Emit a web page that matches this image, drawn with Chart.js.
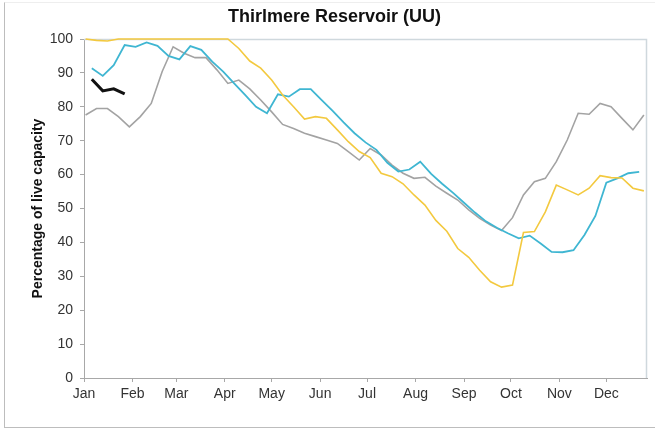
<!DOCTYPE html>
<html>
<head>
<meta charset="utf-8">
<script src="https://cdn.jsdelivr.net/npm/chart.js@4.4.1/dist/chart.umd.min.js"></script>
<style>
  html, body { margin: 0; padding: 0; background: #ffffff; }
  #wrap { position: relative; width: 655px; height: 432px; overflow: hidden; }
  #frame { position: absolute; left: 4px; top: 2px; width: 700px; height: 426px; box-sizing: border-box;
           border-left: 1px solid #bdbdbd; border-bottom: 1px solid #bdbdbd; border-top: 1px solid #eeeeee;
           pointer-events: none; }
  canvas { position: absolute; left: 0; top: 0; }
</style>
</head>
<body>
<div id="wrap">
  <canvas id="c" width="655" height="432"></canvas>
  <div id="frame"></div>
</div>
<script>
// ---- Data (day-of-year positions and percentage of live capacity) ----
const monthLabels = ["Jan","Feb","Mar","Apr","May","Jun","Jul","Aug","Sep","Oct","Nov","Dec"];
const monthStarts = [0,31,59,90,120,151,181,212,243,273,304,334];
const yTicks = [0,10,20,30,40,50,60,70,80,90,100];

const daysA = [1,8,15,22,29,36,43,50,57,64,71,78,85,92,99,106,113,120,127,134,141,148,155,162,169,176,
               183,190,197,204,211,218,225,232,239,246,253,260,267,274,281,288,295,302,309,316,323,330,337,344,351,358];
const daysB = [5,12,19,26,33,40,47,54,61,68,75,82,89,96,103,110,117,124,131,138,145,152,159,166,173,180,
               187,194,201,208,215,222,229,236,243,250,257,264,271,278,285,292,299,306,313,320,327,334,341,348,355];

const greyValues = [77.6,79.5,79.5,77.1,74.1,77.1,81.0,90.4,97.7,95.8,
                    94.5,94.5,90.9,86.9,87.9,85.3,82.0,78.5,74.8,73.6,
                    72.2,71.2,70.2,69.2,66.8,64.3,67.7,65.8,62.8,60.4,
                    58.9,59.2,56.6,54.5,52.5,49.6,47.1,45.1,43.5,47.3,
                    54.0,57.9,58.9,63.8,70.2,78.1,77.8,81.0,80.0,76.6,
                    73.2,77.6];
const yellowValues = [100,99.6,99.4,100,100,100,100,100,100,100,
                      100,100,100,100,97.2,93.5,91.4,87.9,83.5,80.0,
                      76.4,77.1,76.6,73.2,69.7,66.8,65.0,60.4,59.4,57.3,
                      54.0,51.0,46.5,43.3,38.2,35.6,31.8,28.4,26.8,27.4,
                      42.9,43.2,49.0,56.9,55.5,54.0,56.0,59.7,59.1,59.0,
                      56.0,55.2];
const blueValues = [91.4,89.1,92.3,98.2,97.7,99.0,98.0,95.0,94.0,97.9,
                    96.8,93.3,90.4,86.9,83.5,80.0,78.1,83.7,83.0,85.2,
                    85.2,82.0,78.8,75.4,72.2,69.5,67.3,63.5,60.9,61.5,
                    63.8,60.2,57.3,54.6,51.7,48.8,46.2,44.3,42.7,41.2,
                    42.0,39.7,37.2,37.1,37.7,42.2,47.8,57.6,58.9,60.4,
                    60.8];
const blackDays = [5,12,19,26];
const blackValues = [88.1,84.7,85.3,83.8];

function pts(days, vals) { return vals.map((v, i) => ({ x: days[i], y: v })); }

const plotFrame = {
  id: 'plotFrame',
  beforeDatasetsDraw(chart) {
    const a = chart.chartArea, ctx = chart.ctx;
    ctx.save();
    ctx.strokeStyle = '#cfd8dd';
    ctx.lineWidth = 1.5;
    ctx.beginPath();
    ctx.moveTo(a.left, a.top + 0.5);
    ctx.lineTo(a.right - 0.5, a.top + 0.5);
    ctx.lineTo(a.right - 0.5, a.bottom);
    ctx.stroke();
    ctx.restore();
  }
};

const axisColor = '#a8a8a8';
const tickFont = { family: '"Liberation Sans", Arial, sans-serif', size: 14 };

new Chart(document.getElementById('c'), {
  type: 'line',
  data: {
    datasets: [
      { label: 'Current', data: pts(blackDays, blackValues), borderColor: '#111111', borderWidth: 3 },
      { label: 'Yellow', data: pts(daysA, yellowValues), borderColor: '#f3c93f', borderWidth: 1.6 },
      { label: 'Blue', data: pts(daysB, blueValues), borderColor: '#3fb6d2', borderWidth: 1.8 },
      { label: 'Grey', data: pts(daysA, greyValues), borderColor: '#a3a3a3', borderWidth: 1.6 }
    ]
  },
  options: {
    responsive: false,
    animation: false,
    devicePixelRatio: 1,
    layout: { padding: { left: 22, right: 8, top: 0, bottom: 0 } },
    elements: { point: { radius: 0 }, line: { tension: 0, fill: false } },
    datasets: { line: { clip: 3 } },
    plugins: {
      legend: { display: false },
      tooltip: { enabled: false },
      title: {
        display: true,
        text: 'Thirlmere Reservoir (UU)',
        color: '#111111',
        font: { family: '"Liberation Sans", Arial, sans-serif', size: 18, weight: 'bold', lineHeight: 1.2 },
        padding: { top: 6, bottom: 11.4 }
      }
    },
    scales: {
      x: {
        type: 'linear',
        min: 0,
        max: 360,
        afterBuildTicks(scale) { scale.ticks = monthStarts.map(v => ({ value: v })); },
        afterFit(scale) { scale.height = 54; },
        ticks: {
          autoSkip: false,
          maxRotation: 0,
          padding: 4,
          color: '#333333',
          font: tickFont,
          callback(value) { const i = monthStarts.indexOf(value); return i >= 0 ? monthLabels[i] : ''; }
        },
        grid: { drawOnChartArea: false, drawTicks: true, tickLength: 4, color: axisColor },
        border: { display: true, color: axisColor, width: 1 }
      },
      y: {
        min: 0,
        max: 100,
        afterBuildTicks(scale) { scale.ticks = yTicks.map(v => ({ value: v })); },
        afterFit(scale) { scale.width = 62; },
        ticks: { padding: 7, color: '#333333', font: tickFont },
        grid: { drawOnChartArea: false, drawTicks: true, tickLength: 4, color: axisColor },
        border: { display: true, color: axisColor, width: 1 },
        title: {
          display: true,
          text: 'Percentage of live capacity',
          color: '#111111',
          font: { family: '"Liberation Sans", Arial, sans-serif', size: 14, weight: 'bold', lineHeight: 1.2 },
          padding: { top: 7.6, bottom: 0 }
        }
      }
    }
  },
  plugins: [plotFrame]
});
</script>
</body>
</html>
